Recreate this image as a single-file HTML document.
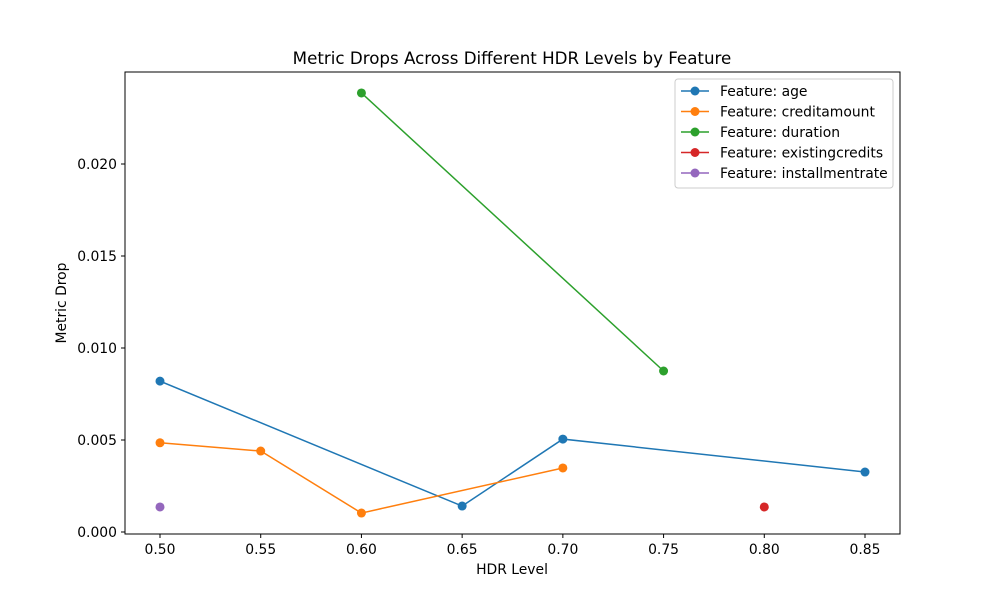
<!DOCTYPE html>
<html><head><meta charset="utf-8"><style>body{margin:0;background:#fff}svg{font-family:"DejaVu Sans","Liberation Sans",sans-serif}</style></head>
<body>
<svg id="c" width="1000" height="600"></svg>
<script>
const xTicks=[0.5,0.55,0.6,0.65,0.7,0.75,0.8,0.85];
const yTicks=[0,0.005,0.01,0.015,0.02];
const names=["age","creditamount","duration","existingcredits","installmentrate"];
const colors=["#1f77b4","#ff7f0e","#2ca02c","#d62728","#9467bd"];
const ageX=[0.5,0.65,0.7,0.85], ageY=[0.0082,0.00141,0.00505,0.00326];
const credX=[0.5,0.55,0.6,0.7], credY=[0.00485,0.0044,0.00103,0.00348];
const durX=[0.6,0.75], durY=[0.02386,0.00875];
const exX=[0.8], exY=[0.00136];
const instX=[0.5], instY=[0.00136];
const series=[[ageX,ageY],[credX,credY],[durX,durY],[exX,exY],[instX,instY]];
const sx=v=>160+(v-0.5)/0.35*705, sy=v=>532-v/0.02*368;
const svg=document.getElementById('c');const NS="http://www.w3.org/2000/svg";
function mk(t,a,txt){const e=document.createElementNS(NS,t);for(const k in a)e.setAttribute(k,a[k]);if(txt!=null)e.textContent=txt;svg.appendChild(e);return e;}
let e=mk('rect',{x:125,y:72,width:775,height:462,fill:'none',stroke:'#000','stroke-width':1});


xTicks.forEach(v=>{const x=sx(v);mk('line',{x1:x,x2:x,y1:534,y2:538,stroke:'#000'});
 e=mk('text',{x:x,y:554,'text-anchor':'middle','font-size':13.9},v.toFixed(2));
 
 });
yTicks.forEach(v=>{const y=sy(v);mk('line',{x1:121,x2:125,y1:y,y2:y,stroke:'#000'});
 e=mk('text',{x:117,y:y+5,'text-anchor':'end','font-size':13.9},v.toFixed(3));
 
 });
e=mk('text',{x:512,y:574,'text-anchor':'middle','font-size':13.9},'HDR Level');


e=mk('text',{x:66,y:303,'text-anchor':'middle','font-size':13.9,transform:'rotate(-90 66 303)'},'Metric Drop');


e=mk('text',{x:512,y:64,'text-anchor':'middle','font-size':16.7},'Metric Drops Across Different HDR Levels by Feature');


series.forEach((s,i)=>{const pts=s[0].map((x,j)=>sx(x)+','+sy(s[1][j])).join(' ');
 e=mk('polyline',{points:pts,fill:'none',stroke:colors[i],'stroke-width':1.5});
 
 
 s[0].forEach((x,j)=>{e=mk('circle',{cx:sx(x),cy:sy(s[1][j]),r:4.5,fill:colors[i]});
 
 });});
e=mk('rect',{x:675,y:79,width:218,height:109,rx:3,fill:'#fff',stroke:'#ccc'});


names.forEach((n,i)=>{const y=91+i*20.5;
 mk('line',{x1:681,x2:709,y1:y,y2:y,stroke:colors[i],'stroke-width':1.5});
 mk('circle',{cx:695,cy:y,r:4.5,fill:colors[i]});
 e=mk('text',{x:720,y:y+5,'font-size':13.9},'Feature: '+n);
 
 });
</script>
</body></html>
